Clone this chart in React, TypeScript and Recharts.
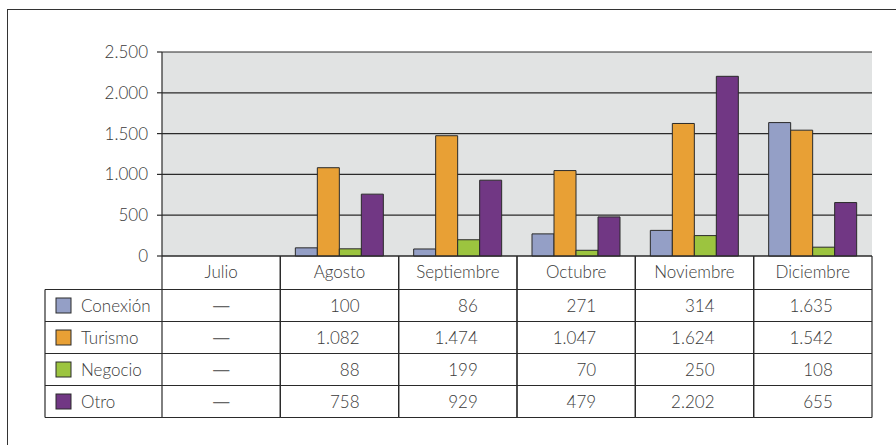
import React from 'react';
import { BarChart, Bar, XAxis, YAxis, CartesianGrid } from 'recharts';

const months = ['Julio', 'Agosto', 'Septiembre', 'Octubre', 'Noviembre', 'Diciembre'];
const conexion = [null, 100, 86, 271, 314, 1635];
const turismo = [null, 1082, 1474, 1047, 1624, 1542];
const negocio = [null, 88, 199, 70, 250, 108];
const otro = [null, 758, 929, 479, 2202, 655];
const yTicks = [0, 500, 1000, 1500, 2000, 2500];

const seriesDefs = [
  { key: 'conexion', name: 'Conexión', values: conexion, color: '#949fc6' },
  { key: 'turismo', name: 'Turismo', values: turismo, color: '#e8a035' },
  { key: 'negocio', name: 'Negocio', values: negocio, color: '#9cc43f' },
  { key: 'otro', name: 'Otro', values: otro, color: '#713784' },
];

const data = months.map((m, i) => {
  const row: any = { month: m };
  seriesDefs.forEach((s) => {
    row[s.key] = s.values[i];
  });
  return row;
});

const W = 896;
const H = 445;
const M_TOP = 52;
const M_RIGHT = 24;
const Y_W = 162;
const PLOT_BOTTOM = 256;
const X_H = H - PLOT_BOTTOM;
const PLOT_W = W - Y_W - M_RIGHT;
const BAND = PLOT_W / months.length;
const HEADER_BOTTOM = 289.5;
const ROW_H = 32;
const LEGEND_LEFT = 45;
const FONT = 'Lato, "Open Sans", sans-serif';
const TEXT = '#3a3a3a';
const LINE = '#2a2a2a';
const FS = 17;

const fmt = (v: number | null) => {
  if (v === null || v === undefined) return '—';
  if (v >= 1000) {
    const th = Math.floor(v / 1000);
    const rest = String(v % 1000).padStart(3, '0');
    return `${th}.${rest}`;
  }
  return String(v);
};

const TableTick = (props: any) => {
  const { x, payload } = props;
  const idx = payload?.index ?? props.index ?? months.indexOf(payload?.value);
  const left = x - BAND / 2;
  const right = x + BAND / 2;
  const tableBottom = HEADER_BOTTOM + ROW_H * seriesDefs.length;
  const els: any[] = [];
  els.push(
    <text key="h" x={x} y={278} textAnchor="middle" fontFamily={FONT} fontSize={FS} fill={TEXT} fontWeight={300}>
      {payload.value}
    </text>
  );
  els.push(<line key="vl" x1={left} x2={left} y1={PLOT_BOTTOM} y2={tableBottom} stroke={LINE} strokeWidth={1.2} />);
  els.push(<line key="vr" x1={right} x2={right} y1={PLOT_BOTTOM} y2={tableBottom} stroke={LINE} strokeWidth={1.2} />);
  seriesDefs.forEach((s, r) => {
    const top = HEADER_BOTTOM + r * ROW_H;
    const cy = top + ROW_H / 2;
    const v = s.values[idx];
    els.push(<line key={`t${r}`} x1={left} x2={right} y1={top} y2={top} stroke={LINE} strokeWidth={1.2} />);
    if (v === null || v === undefined) {
      els.push(
        <text key={`v${r}`} x={x} y={cy + 5} textAnchor="middle" fontFamily='"DejaVu Sans", sans-serif' fontSize={18} fill="#666">
          —
        </text>
      );
    } else {
      els.push(
        <text key={`v${r}`} x={x + 20} y={cy + 6} textAnchor="end" fontFamily={FONT} fontSize={FS} fill={TEXT} fontWeight={300}>
          {fmt(v)}
        </text>
      );
    }
    if (idx === 0) {
      els.push(<line key={`lt${r}`} x1={LEGEND_LEFT} x2={left} y1={top} y2={top} stroke={LINE} strokeWidth={1.2} />);
      els.push(
        <rect key={`sw${r}`} x={56} y={cy - 7.5} width={15} height={15} fill={s.color} stroke={LINE} strokeWidth={1} />
      );
      els.push(
        <text key={`ln${r}`} x={81} y={cy + 6} fontFamily={FONT} fontSize={FS} fill={TEXT} fontWeight={300}>
          {s.name}
        </text>
      );
    }
  });
  els.push(<line key="b" x1={left} x2={right} y1={tableBottom} y2={tableBottom} stroke={LINE} strokeWidth={1.2} />);
  if (idx === 0) {
    els.push(<line key="lb" x1={LEGEND_LEFT} x2={left} y1={tableBottom} y2={tableBottom} stroke={LINE} strokeWidth={1.2} />);
    els.push(<line key="ll" x1={LEGEND_LEFT} x2={LEGEND_LEFT} y1={HEADER_BOTTOM} y2={tableBottom} stroke={LINE} strokeWidth={1.2} />);
  }
  return <g>{els}</g>;
};

export default function App() {
  return (
    <div style={{ position: 'fixed', left: 0, top: 0, width: W, height: H, overflow: 'hidden', background: '#fff' }}>
      <div
        style={{
          position: 'absolute',
          left: 7,
          top: 9,
          width: 950,
          height: 500,
          borderLeft: '1.5px solid #333',
          borderTop: '1.5px solid #333',
        }}
      />
      <div style={{ position: 'absolute', left: 0, top: 0 }}>
        <BarChart
          width={W}
          height={H}
          data={data}
          margin={{ top: M_TOP, right: M_RIGHT, left: 0, bottom: 0 }}
          barCategoryGap={15}
          barGap={0}
        >
          <CartesianGrid horizontal vertical={false} stroke={LINE} strokeWidth={1.2} fill="#e1e3e3" fillOpacity={1} />
          <XAxis
            dataKey="month"
            height={X_H}
            interval={0}
            tickLine={false}
            axisLine={{ stroke: LINE, strokeWidth: 1.2 }}
            tick={<TableTick />}
          />
          <YAxis
            width={Y_W}
            domain={[0, 2500]}
            ticks={yTicks}
            interval={0}
            tickSize={5}
            tickMargin={9}
            tickFormatter={(v: number) => fmt(v)}
            tick={{ fontFamily: FONT, fontSize: FS, fill: TEXT, fontWeight: 300 }}
            axisLine={{ stroke: LINE, strokeWidth: 1.2 }}
            tickLine={{ stroke: LINE, strokeWidth: 1.2 }}
          />
          <YAxis
            yAxisId="r"
            orientation="right"
            width={0}
            domain={[0, 2500]}
            tick={false}
            tickLine={false}
            axisLine={{ stroke: LINE, strokeWidth: 1.2 }}
          />
          {seriesDefs.map((s) => (
            <Bar
              key={s.key}
              dataKey={s.key}
              name={s.name}
              fill={s.color}
              stroke={LINE}
              strokeWidth={1}
              isAnimationActive={false}
            />
          ))}
        </BarChart>
      </div>
    </div>
  );
}
